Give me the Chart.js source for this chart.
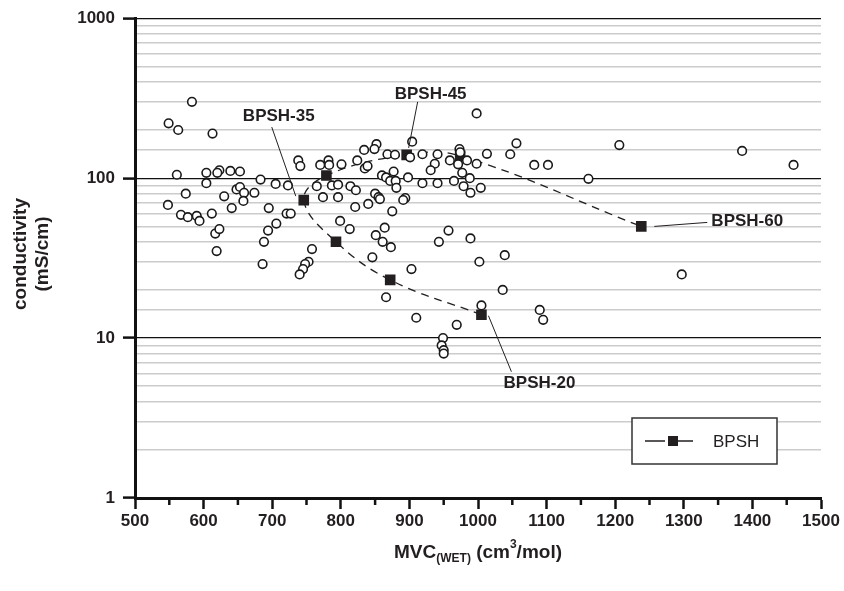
<!DOCTYPE html>
<html>
<head>
<meta charset="utf-8">
<script src="https://cdn.jsdelivr.net/npm/chart.js@4/dist/chart.umd.min.js"></script>
<style>
  html, body { margin: 0; padding: 0; background: #fff; }
</style>
</head>
<body>
<canvas id="mvcChart" width="844" height="591"></canvas>
<script>
// polymer samples: MVC(wet) vs conductivity
const polyMvc = [
  583, 549, 563, 613, 561, 604, 604, 623, 620, 639, 653, 683, 705, 723, 574, 548,
  612, 630, 641, 648, 653, 659, 658, 674, 695, 721, 567, 577, 590, 594, 617, 623,
  619, 706, 694, 688, 686, 904, 852, 849, 834, 868, 879, 919, 941, 937, 931, 959,
  738, 741, 770, 782, 783, 801, 824, 835, 839, 860, 877, 866, 872, 880, 881, 894,
  891, 898, 919, 941, 965, 814, 822, 765, 787, 796, 774, 796, 850, 855, 857, 821,
  840, 875, 727, 799, 758, 753, 748, 745, 740, 813, 851, 864, 861, 873, 846, 903,
  866, 910, 969, 957, 943, 949, 947, 950, 950, 998, 1056, 1047, 1013, 973, 974, 984,
  998, 971, 977, 988, 979, 1004, 989, 1082, 1102, 1161, 989, 1002, 1039, 1036, 1005, 1090,
  1095, 1206, 1385, 1460, 1297, 901
];
const polyCond = [
  300, 220, 200, 190, 105, 108, 93, 112, 108, 111, 110, 98, 92, 90, 80, 68,
  60, 77, 65, 85, 88, 81, 72, 81, 65, 60, 59, 57, 58, 54, 45, 48,
  35, 52, 47, 40, 29, 169, 163, 152, 150, 141, 140, 141, 141, 123, 112, 129,
  129, 119, 121, 129, 121, 122, 129, 115, 119, 104, 110, 101, 96, 96, 87, 75,
  73, 101, 93, 93, 96, 89, 84, 89, 90, 91, 76, 76, 80, 76, 74, 66,
  69, 62, 60, 54, 36, 30, 29, 27, 25, 48, 44, 49, 40, 37, 32, 27,
  18, 13.4, 12.1, 47, 40, 10, 9, 8.4, 8.0, 254, 165, 141, 142, 152, 145, 129,
  123, 122, 108, 100, 89, 87, 81, 121, 121, 99, 42, 30, 33, 20, 16, 15,
  13, 161, 148, 121, 25, 135
];

// BPSH series, in the order the dashed curve runs through it
const bpshMvc = [1005, 872, 793, 746, 779, 896, 974, 1238];
const bpshCond = [14, 23.1, 40, 72.9, 103.8, 139.7, 137.7, 49.9];
const bpshNames = ['BPSH-20', '', '', 'BPSH-35', '', 'BPSH-45', '', 'BPSH-60'];

const xTickValues = [500, 600, 700, 800, 900, 1000, 1100, 1200, 1300, 1400, 1500];
const xMinorTicks = [550, 650, 750, 850, 950, 1050, 1150, 1250, 1350, 1450];
const yTickLabels = [1, 10, 100, 1000];

const FONT = "'Liberation Sans', Arial, Helvetica, sans-serif";

const isDecade = v => v > 0 && Math.abs(Math.log10(v) - Math.round(Math.log10(v))) < 1e-9;

// label text offsets (px) relative to the point, with leader line ends
const callouts = {
  'BPSH-20': { dx: 58, dy: 69, from: [30, 57], to: [7, 1] },
  'BPSH-35': { dx: -25, dy: -84, from: [-32, -73], to: [-8, -4] },
  'BPSH-45': { dx: 24, dy: -61, from: [11, -53], to: [2, -7] },
  'BPSH-60': { dx: 106, dy: -5, from: [66, -4], to: [13, 0] }
};

const decorPlugin = {
  id: 'decor',
  afterDraw(chart) {
    const ctx = chart.ctx;
    const xs = chart.scales.x, ys = chart.scales.y;
    const area = chart.chartArea;
    ctx.save();

    // short minor ticks on x
    ctx.strokeStyle = '#111';
    ctx.lineWidth = 2.5;
    xMinorTicks.forEach(v => {
      const px = xs.getPixelForValue(v);
      ctx.beginPath();
      ctx.moveTo(px, area.bottom);
      ctx.lineTo(px, area.bottom + 7);
      ctx.stroke();
    });

    // callout labels
    ctx.font = 'bold 17px ' + FONT;
    ctx.fillStyle = '#231f20';
    ctx.textAlign = 'center';
    ctx.textBaseline = 'middle';
    bpshNames.forEach((name, i) => {
      if (!name) return;
      const c = callouts[name];
      const px = xs.getPixelForValue(bpshMvc[i]);
      const py = ys.getPixelForValue(bpshCond[i]);
      ctx.strokeStyle = '#231f20';
      ctx.lineWidth = 1;
      ctx.beginPath();
      ctx.moveTo(px + c.from[0], py + c.from[1]);
      ctx.lineTo(px + c.to[0], py + c.to[1]);
      ctx.stroke();
      ctx.fillText(name, px + c.dx, py + c.dy);
    });

    // legend box
    const lx = area.right - 189, ly = area.bottom - 80;
    ctx.fillStyle = '#fff';
    ctx.fillRect(lx, ly, 145, 46);
    ctx.strokeStyle = '#333';
    ctx.lineWidth = 1.5;
    ctx.strokeRect(lx, ly, 145, 46);
    const my = ly + 23;
    ctx.strokeStyle = '#231f20';
    ctx.lineWidth = 1.3;
    ctx.beginPath();
    ctx.moveTo(lx + 13, my); ctx.lineTo(lx + 33, my);
    ctx.moveTo(lx + 43, my); ctx.lineTo(lx + 61, my);
    ctx.stroke();
    ctx.fillStyle = '#231f20';
    ctx.fillRect(lx + 36, my - 5, 10, 10);
    ctx.font = '17px ' + FONT;
    ctx.textAlign = 'left';
    ctx.fillText('BPSH', lx + 81, my + 1);

    // y axis title
    ctx.font = 'bold 19px ' + FONT;
    ctx.textAlign = 'center';
    ctx.textBaseline = 'middle';
    ctx.save();
    ctx.translate(21, 254);
    ctx.rotate(-Math.PI / 2);
    ctx.fillText('conductivity', 0, 0);
    ctx.fillText('(mS/cm)', 0, 22);
    ctx.restore();

    // x axis title with sub/superscript
    const parts = [
      { t: 'MVC', f: 'bold 19px ', dy: 0 },
      { t: '(WET)', f: 'bold 12px ', dy: 6 },
      { t: ' (cm', f: 'bold 19px ', dy: 0 },
      { t: '3', f: 'bold 12px ', dy: -8 },
      { t: '/mol)', f: 'bold 19px ', dy: 0 }
    ];
    let total = 0;
    parts.forEach(p => { ctx.font = p.f + FONT; p.w = ctx.measureText(p.t).width; total += p.w; });
    let tx = (area.left + area.right) / 2 - total / 2;
    const ty = 553;
    ctx.textAlign = 'left';
    ctx.textBaseline = 'middle';
    parts.forEach(p => {
      ctx.font = p.f + FONT;
      ctx.fillText(p.t, tx, ty + p.dy);
      tx += p.w;
    });

    ctx.restore();
  }
};

const toPoints = (xs, ys) => xs.map((x, i) => ({ x: x, y: ys[i] }));

new Chart(document.getElementById('mvcChart'), {
  type: 'scatter',
  data: {
    datasets: [
      {
        label: 'samples',
        data: toPoints(polyMvc, polyCond),
        pointStyle: 'circle',
        pointRadius: 4.3,
        borderWidth: 1.6,
        borderColor: '#1a1a1a',
        backgroundColor: '#ffffff'
      },
      {
        label: 'BPSH',
        data: toPoints(bpshMvc, bpshCond),
        showLine: true,
        tension: 0.4,
        borderColor: '#231f20',
        borderWidth: 1.3,
        borderDash: [8, 6],
        pointStyle: 'rect',
        pointRadius: 7.5,
        pointBorderWidth: 0,
        pointBackgroundColor: '#231f20',
        pointBorderColor: '#231f20'
      }
    ]
  },
  options: {
    responsive: false,
    animation: false,
    layout: { padding: { left: 0, right: 23, top: 17, bottom: 0 } },
    plugins: {
      legend: { display: false },
      tooltip: { enabled: false }
    },
    scales: {
      x: {
        type: 'linear',
        min: 500,
        max: 1500,
        afterBuildTicks: s => { s.ticks = xTickValues.map(v => ({ value: v })); },
        afterFit: s => { s.height = 93; },
        ticks: {
          padding: 2,
          color: '#231f20',
          font: { family: FONT, size: 17, weight: 'bold' },
          maxRotation: 0,
          autoSkip: false,
          callback: v => String(v)
        },
        grid: {
          drawOnChartArea: false,
          tickLength: 11,
          tickColor: '#111',
          tickWidth: 2.5
        },
        border: { color: '#111', width: 3 }
      },
      y: {
        type: 'logarithmic',
        min: 1,
        max: 1000,
        afterFit: s => { s.width = 135; },
        ticks: {
          padding: 8,
          autoSkip: false,
          color: '#231f20',
          font: { family: FONT, size: 17, weight: 'bold' },
          callback: v => yTickLabels.includes(v) ? String(v) : ''
        },
        grid: {
          color: c => (c.tick && isDecade(c.tick.value)) ? '#111' : '#cccccc',
          lineWidth: c => (c.tick && isDecade(c.tick.value)) ? 1.2 : 1.5,
          tickColor: c => (c.tick && isDecade(c.tick.value)) ? '#111' : 'rgba(0,0,0,0)',
          tickLength: 12,
          tickWidth: 2.5
        },
        border: { color: '#111', width: 3 }
      }
    }
  },
  plugins: [decorPlugin]
});
</script>
</body>
</html>
